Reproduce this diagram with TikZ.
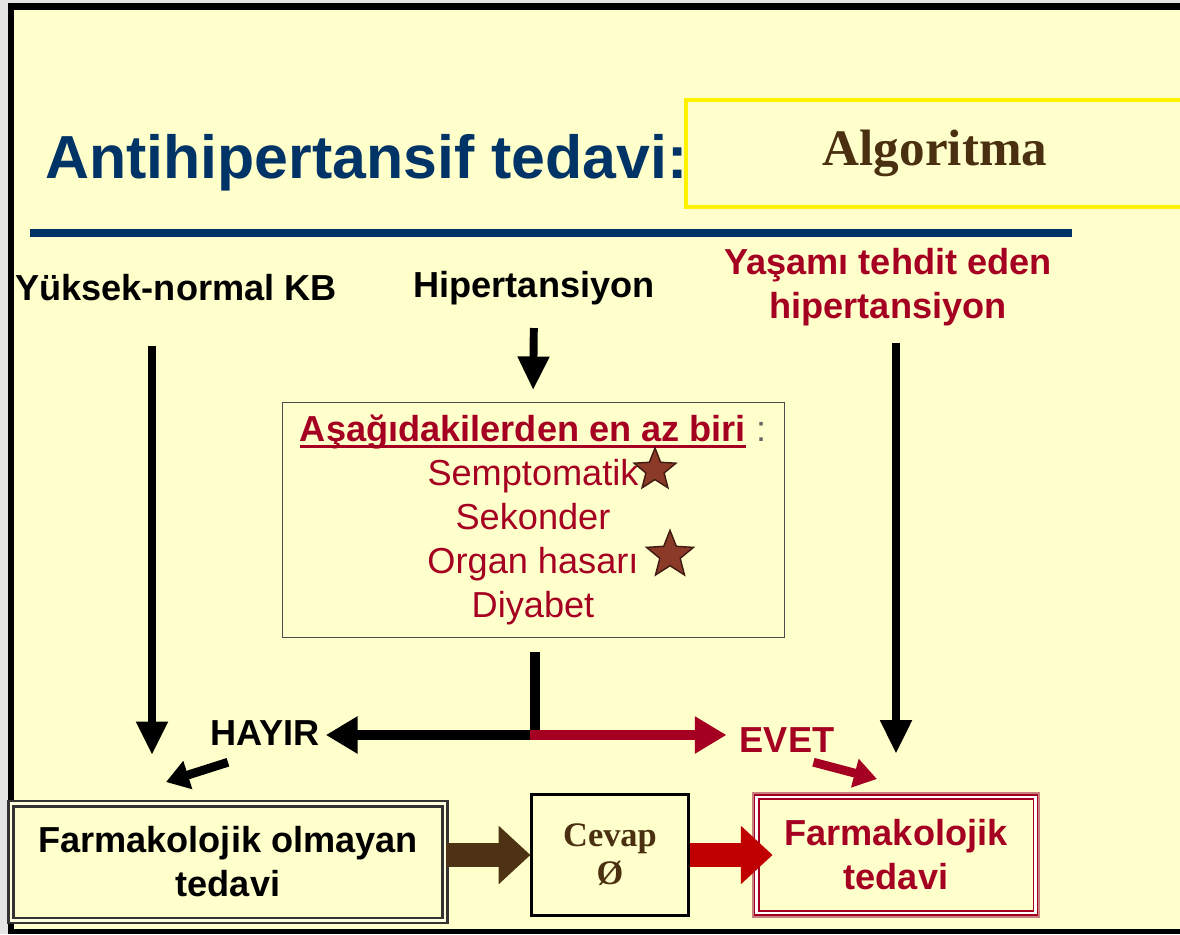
\documentclass[tikz,border=0pt]{standalone}
\usepackage{fontspec}
\setmainfont{Liberation Sans}
\newfontfamily\serifbk{Liberation Serif}
\usetikzlibrary{arrows.meta,shapes.geometric,positioning}

\definecolor{paper}{HTML}{FFFFCC}
\definecolor{navy}{HTML}{003366}
\definecolor{crimson}{HTML}{A50021}
\definecolor{umber}{HTML}{4A3010}
\definecolor{darkumber}{HTML}{4D3213}
\definecolor{starbrown}{HTML}{8B3A28}
\definecolor{blockred}{HTML}{C00000}
\definecolor{framepink}{HTML}{C98080}

\newcommand\thickul[1]{\setbox0\hbox{#1}\rlap{\rule[-3.6pt]{\wd0}{1.7pt}}\box0}

\begin{document}
\begin{tikzpicture}[
        x=0.567pt, y=-0.567pt,
        every node/.style = {align=center, font=\fontsize{20.5}{25}\selectfont\bfseries},
        thinbox/.style = {draw=black!70, fill=paper, minimum width=284.6pt, minimum height=133pt},
        olmbox/.style = {draw=black!80, double=paper!60!white, line width=1.3pt, double distance=1.6pt, fill=paper, minimum width=246pt, minimum height=66pt},
        cevbox/.style = {draw=black, line width=1.7pt, fill=paper, minimum width=88.5pt, minimum height=68.6pt, text=umber, font=\fontsize{19.5}{21.5}\selectfont\serifbk\bfseries},
        farbox/.style = {preaction={draw=framepink, line width=5.5pt}, draw=crimson, double=white, line width=0.9pt, double distance=1.4pt, fill=paper, minimum width=158pt, minimum height=66pt},
        vertarr/.style = {line width=4.5pt, -{Triangle[length=19pt,width=17pt]}},
        bigarr/.style = {line width=5.7pt, -{Triangle[length=18pt,width=20pt]}},
        smallarr/.style = {line width=5pt, -{Triangle[length=13pt,width=16pt]}},
        blockarr/.style = {line width=14pt, -{Triangle[length=18pt,width=32pt]}},
        starmark/.style = {star, star points=5, star point ratio=2.3, fill=starbrown, draw=starbrown!45!black, line width=0.8pt, inner sep=0}
    ]
    \useasboundingbox (0,0) rectangle (1180,934);
    \fill[black!10] (0,0) rectangle (1180,934);
    \fill[black] (8,3) rectangle (1190,934);
    \fill[paper] (14,10) rectangle (1190,929);

    \node[anchor=base west, inner sep=0, text=navy, font=\fontsize{34.5}{40}\selectfont\bfseries] (title) at (45,178) {Antihipertansif tedavi:};
    \draw[yellow, line width=2pt] (686,100) rectangle (1200,207);
    \node[text=umber, font=\fontsize{29}{34}\selectfont\serifbk\bfseries] (algo) at (935,153) {Algoritma};
    \draw[navy, line width=4.5pt] (30,233) -- (1072,233);

    \node (yuksek) at (176,288) {Yüksek-normal KB};
    \node (hiper) at (534,288) {Hipertansiyon};
    \node[text=crimson] (yasam) at (888,287) {Yaşamı tehdit eden\\hipertansiyon};

    \node[thinbox, text=crimson, font=\fontsize{20.5}{25}\selectfont] (criteria) at (533,520)
        {\thickul{\textbf{Aşağıdakilerden en az biri}}\ \textcolor{black!60}{:}\\Semptomatik\\Sekonder\\Organ hasarı\\Diyabet};
    \node[starmark, minimum size=25pt] (star1) at (655,470) {};
    \node[starmark, minimum size=28pt] (star2) at (670,555) {};

    \node (hayir) at (265,733) {HAYIR};
    \node[text=crimson] (evet) at (787,740) {EVET};
    \coordinate (jn) at (535,735);
    \coordinate (kbtip) at (152,755);
    \coordinate (notip) at (166,782);
    \coordinate (yestip) at (877,779);

    \node[olmbox] (olmayan) at (228,862) {Farmakolojik olmayan\\tedavi};
    \node[cevbox] (cevap) at (610,855) {Cevap\\Ø};
    \node[farbox, text=crimson] (farma) at (896,855) {Farmakolojik\\tedavi};

    \draw[vertarr, shorten <=22pt] (yuksek.south -| kbtip) -- (kbtip);
    \draw[vertarr, shorten <=9.6pt, shorten >=7pt] (hiper.south) -- (criteria.north);
    \draw[vertarr, shorten <=6pt, shorten >=24pt] (yasam.south -| farma.north) -- (farma.north);

    \draw[line width=5.7pt] ([yshift=-8pt]criteria.south -| jn) -- (jn);
    \draw[bigarr] (jn) -- (jn -| hayir.east);
    \draw[bigarr, crimson, shorten >=4pt] ([xshift=-2.8pt]jn) -- (jn -| evet.west);
    \draw[smallarr] ([xshift=-21pt,yshift=-6pt]hayir.south) -- (notip);
    \draw[smallarr, crimson] ([xshift=15pt,yshift=-2pt]evet.south) -- (yestip);

    \draw[blockarr, darkumber] (olmayan.east |- cevap.west) -- (cevap.west);
    \draw[blockarr, blockred, shorten >=-9.5pt] (cevap.east) -- (farma.west);
\end{tikzpicture}
\end{document}
